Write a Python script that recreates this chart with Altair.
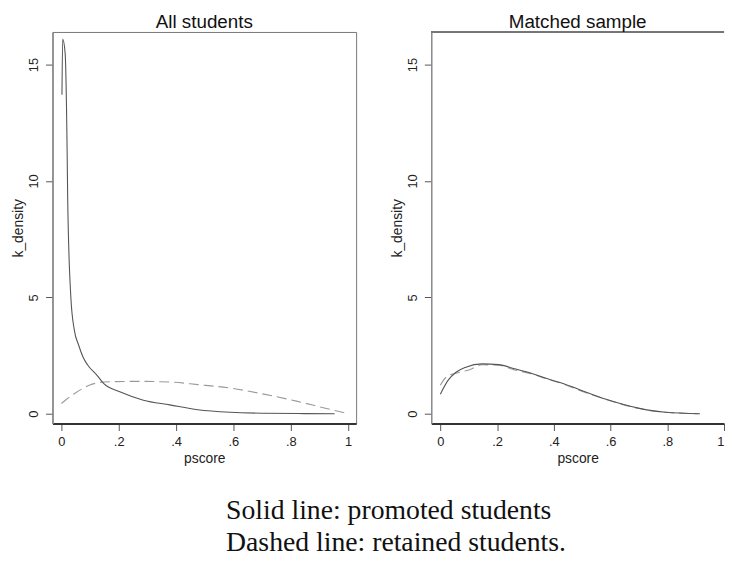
import altair as alt
import pandas as pd

# ---- All students ----
all_prom_x = [0.002, 0.0045, 0.013, 0.02, 0.022, 0.033, 0.045, 0.06, 0.075, 0.091, 0.125, 0.148, 0.206, 0.286, 0.378, 0.476, 0.59, 0.706, 0.85, 0.953]
all_prom_y = [13.7, 16.1, 15.5, 11.3, 9.2, 5.0, 3.6, 2.95, 2.45, 2.1, 1.64, 1.29, 0.93, 0.58, 0.38, 0.17, 0.06, 0.02, 0.005, 0.0]
all_ret_x = [0.0, 0.045, 0.097, 0.148, 0.263, 0.378, 0.476, 0.59, 0.706, 0.82, 0.913, 0.99]
all_ret_y = [0.44, 0.86, 1.22, 1.36, 1.39, 1.36, 1.25, 1.1, 0.84, 0.54, 0.26, 0.03]

# ---- Matched sample ----
m_prom_x = [0.0, 0.027, 0.055, 0.09, 0.147, 0.205, 0.262, 0.32, 0.378, 0.435, 0.487, 0.587, 0.702, 0.794, 0.915]
m_prom_y = [0.84, 1.43, 1.78, 2.0, 2.14, 2.11, 1.93, 1.74, 1.5, 1.29, 1.05, 0.61, 0.23, 0.06, 0.0]
m_ret_x = [0.0, 0.02, 0.067, 0.1, 0.147, 0.205, 0.262, 0.32, 0.378, 0.435, 0.487, 0.587, 0.702, 0.794, 0.91]
m_ret_y = [1.22, 1.57, 1.78, 1.88, 2.1, 2.08, 1.88, 1.72, 1.48, 1.27, 1.02, 0.6, 0.22, 0.06, 0.0]

x_ticks = [0, 0.2, 0.4, 0.6, 0.8, 1]
y_ticks = [0, 5, 10, 15]
titles = ["All students", "Matched sample"]
caption = ["Solid line: promoted students", "Dashed line: retained students."]

SANS = "Liberation Sans"
PH = 396
YDOM = [-0.425, 16.40]
W_TOTAL, H_TOTAL = 726, 543
PAD_L, PAD_T = 45, 19


def panel(px, py, rx, ry, title, xdom, width, framed):
    prom = pd.DataFrame({"pscore": px, "k_density": py})
    ret = pd.DataFrame({"pscore": rx, "k_density": ry})
    xs = alt.Scale(domain=xdom, nice=False, zero=False)
    ys = alt.Scale(domain=YDOM, nice=False, zero=False)
    xax = alt.Axis(values=x_ticks, grid=False, tickSize=7, labelPadding=5,
                   labelExpr="datum.value == 0 ? '0' : datum.value == 1 ? '1' : '.' + round(datum.value*10)",
                   domainColor="#333", domainWidth=2, tickColor="#555",
                   labelFont=SANS, labelFontSize=13, labelColor="#222",
                   titleFont=SANS, titleFontSize=14, titleFontWeight="normal", titleColor="#222",
                   titlePadding=3)
    yax = alt.Axis(values=y_ticks, grid=False, tickSize=7, labelPadding=5, labelAngle=-90,
                   labelAlign="center", labelBaseline="bottom",
                   domainColor="#888", domainWidth=1.5, tickColor="#555",
                   labelFont=SANS, labelFontSize=13, labelColor="#222",
                   titleFont=SANS, titleFontSize=14, titleFontWeight="normal", titleColor="#222",
                   titlePadding=2)
    base_x = alt.X("pscore:Q", scale=xs, axis=xax, title="pscore")
    base_y = alt.Y("k_density:Q", scale=ys, axis=yax, title="k_density")
    solid = alt.Chart(prom).mark_line(color="#555", strokeWidth=1.1, interpolate="monotone", clip=True).encode(
        x=base_x, y=base_y)
    dashed = alt.Chart(ret).mark_line(color="#9a9a9a", strokeWidth=1.1, strokeDash=[10, 5],
                                      interpolate="monotone", clip=True).encode(x=base_x, y=base_y)
    layers = [dashed, solid]
    if not framed:
        top = alt.Chart(prom).mark_rule(color="#777", strokeWidth=1).encode(
            x=alt.value(0), x2=alt.value(width), y=alt.value(0))
        layers.append(top)
    ch = alt.layer(*layers).properties(
        width=width, height=PH,
        title=alt.TitleParams(title, font=SANS, fontSize=19, fontWeight="normal", color="#111", offset=0),
    )
    if framed:
        ch = ch.properties(view=alt.ViewBackground(stroke="#777", strokeWidth=1))
    else:
        ch = ch.properties(view=alt.ViewBackground(stroke="transparent"))
    return ch


left = panel(all_prom_x, all_prom_y, all_ret_x, all_ret_y, titles[0], [-0.031, 1.028], 307, True)
right = panel(m_prom_x, m_prom_y, m_ret_x, m_ret_y, titles[1], [-0.032, 1.0], 296, False)

chart = alt.hconcat(left, right, spacing=33).properties(
    autosize=alt.AutoSizeParams(type="none"),
    padding={"left": PAD_L, "top": PAD_T, "right": W_TOTAL - PAD_L, "bottom": H_TOTAL - PAD_T},
    title=alt.TitleParams(caption, orient="bottom", anchor="start", align="left", dx=217,
                          font="Liberation Serif", fontSize=28, fontWeight="normal",
                          color="#111", lineHeight=32, offset=32),
).configure(background="white")

chart.save("out.html", embed_options={"renderer": "svg", "actions": False})
